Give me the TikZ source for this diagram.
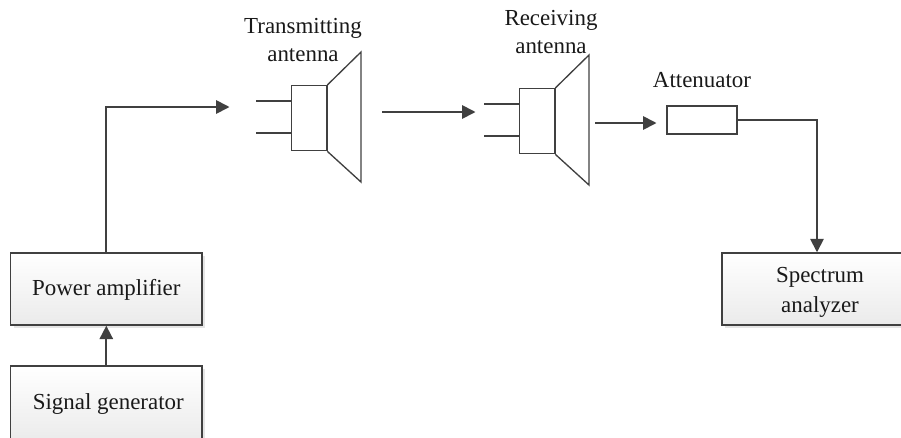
\documentclass[tikz,border=0pt]{standalone}
\usepackage{fontspec}
\setmainfont{Liberation Serif}
\usetikzlibrary{arrows.meta, shadows}

\tikzset{
    label text/.style={font=\fontsize{17.2}{21.5}\selectfont, align=center, text=black!90},
    unit box/.style={draw=black!75, line width=1.1pt, top color=white, bottom color=black!8,
        minimum height=54pt, drop shadow={shadow xshift=2.5pt, shadow yshift=-2.5pt, fill=black!10, opacity=1},
        label text},
    wire/.style={draw=black!75, line width=1.3pt},
    flow/.style={wire, -{Triangle[length=10pt, width=10pt]}},
    horn/.style={draw=black!75, line width=1pt}
}

\begin{document}
\begin{tikzpicture}[x=0.75pt, y=-0.75pt]
        \useasboundingbox (0, 0) rectangle (901, 437);
        \clip (0, 0) rectangle (901, 437);

        % Boxes
        \node[unit box, minimum width=143.6pt] (power) at (106.3, 289) {\rule{0pt}{13pt}Power amplifier};
        \node[unit box, minimum width=143.6pt, minimum height=57pt] (signal) at (106.3, 404) {\hspace*{3pt}Signal generator};
        \node[unit box, minimum width=147pt] (spectrum) at (820, 289) {\rule{0pt}{17pt}Spectrum\\[1pt]analyzer};
        \node[draw=black!75, line width=1.3pt, minimum width=52.5pt, minimum height=21pt] (att) at (702, 120) {};

        % Antennas
        \foreach \name/\x/\y in {tx/291/85, rx/519/88} {
            \node[horn, minimum width=26.25pt, minimum height=48.75pt, anchor=north west] (\name) at (\x, \y) {};
            \draw[horn] (\name.north east) -- (\x+70, \y-33) -- (\x+70, \y+97) -- (\name.south east);
            \draw[horn, line width=1.5pt] (\name.north east) -- (\name.south east);
            \draw[horn] (\x-35, \y+16) -- (\x, \y+16);
            \draw[horn] (\x-35, \y+48) -- (\x, \y+48);
        }

        % Labels
        \node[label text] (txlabel) at (303, 40) {Transmitting\\antenna};
        \node[label text] (rxlabel) at (551, 32) {Receiving\\antenna};
        \node[label text] (attlabel) at (702, 80) {Attenuator};

        % Free ends
        \coordinate (txin) at (229.5, 107);
        \coordinate (txout) at (382, 112);
        \coordinate (rxin) at (475.5, 112);
        \coordinate (rxout) at (595, 123);
        \coordinate (attin) at (656.5, 123);

        % Connectors
        \draw[flow] (signal.north) -- (power.south);
        \draw[flow] (power.north) |- (txin);
        \draw[flow] (txout) -- (rxin);
        \draw[flow] (rxout) -- (attin);
        \draw[flow] (att.east) -| ([xshift=-2.25pt]spectrum.north);
    \end{tikzpicture}
\end{document}
